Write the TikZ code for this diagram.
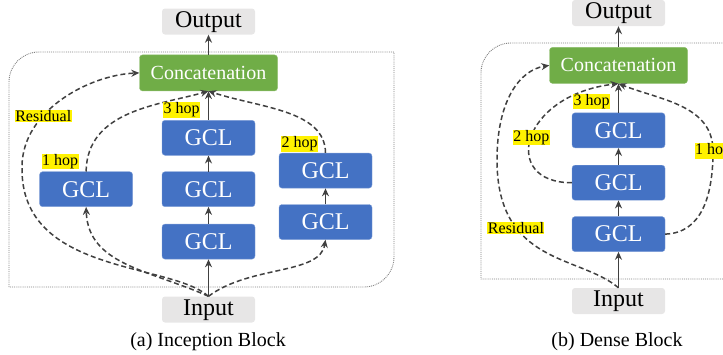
\documentclass[tikz,border=0pt]{standalone}
\usepackage{fontspec}
\setmainfont{Liberation Serif}
\usepackage{xcolor}
\usepackage{tikz}
\usetikzlibrary{arrows.meta, positioning, calc}

\definecolor{gclblue}{HTML}{4472C4}
\definecolor{concatgreen}{HTML}{70AD47}
\definecolor{iogray}{HTML}{E7E6E6}
\definecolor{linegray}{HTML}{404040}

\begin{document}
\begin{tikzpicture}[
            x=1pt, y=-1pt,
            >={Stealth[length=8pt, width=7pt]},
            gcl/.style={rectangle, draw=gclblue!70!white, fill=gclblue, rounded corners=3pt, text=white, minimum width=93pt, minimum height=35pt, font=\fontsize{24}{28}\selectfont},
            concat/.style={rectangle, draw=concatgreen!80!white, fill=concatgreen, rounded corners=3pt, text=white, minimum width=138pt, minimum height=36pt, font=\fontsize{20}{24}\selectfont},
            io/.style={rectangle, fill=iogray, rounded corners=3pt, inner sep=0pt, text height=16pt, text depth=5pt, minimum width=93pt, minimum height=26pt, font=\fontsize{24}{28}\selectfont},
            hop/.style={fill=yellow, inner sep=0.5pt, font=\fontsize{16}{18}\selectfont},
            flow/.style={->, draw=linegray, line width=1.5pt},
            skip/.style={flow, dash pattern=on 5pt off 3pt},
            frame/.style={draw=gray, densely dotted, line width=0.9pt},
            caption/.style={font=\fontsize{20}{24}\selectfont}
        ]
        \useasboundingbox (0,0) rectangle (723,354);

        % Inception block
        \draw[frame] (9,287) -- (9,82) .. controls (9,65.4) and (22.4,52) .. (39,52) -- (394,52) -- (394,257) .. controls (394,273.6) and (380.6,287) .. (364,287) -- cycle;

        \node[io] (inc_in) at (208.5,309.5) {Input};
        \node[gcl, above=37pt of inc_in] (inc_gcl3a) {GCL};
        \node[gcl, above=17pt of inc_gcl3a] (inc_gcl3b) {GCL};
        \node[gcl, above=16pt of inc_gcl3b] (inc_gcl3c) {GCL};
        \node[concat, above=29pt of inc_gcl3c] (inc_concat) {Concatenation};
        \node[io, above=20pt of inc_concat] (inc_out) {Output};
        \node[gcl, left=29pt of inc_gcl3b] (inc_gcl1) {GCL};
        \node[gcl] (inc_gcl2a) at (325.5,222) {GCL};
        \node[gcl, above=16pt of inc_gcl2a] (inc_gcl2b) {GCL};

        \draw[flow] (inc_in) -- (inc_gcl3a);
        \draw[flow] (inc_gcl3a) -- (inc_gcl3b);
        \draw[flow] (inc_gcl3b) -- (inc_gcl3c);
        \draw[flow] (inc_gcl3c) -- (inc_concat);
        \draw[flow] (inc_concat) -- (inc_out);
        \draw[flow] (inc_gcl2a) -- (inc_gcl2b);

        % Inception skips
        \draw[skip] (inc_in.north) .. controls (170,262) and (20,275) .. (22,167) .. controls (22,110) and (90,75) .. (inc_concat.west) node[hop, pos=0.35] (inc_res) {Residual};
        \draw[skip] (inc_in.north) .. controls (150,270) and (88,265) .. (inc_gcl1.south);
        \draw[skip] (inc_in.north) .. controls (250,265) and (320,275) .. (inc_gcl2a.south);
        \draw[skip] (inc_gcl1.north) .. controls (87,110) and (160,105) .. (inc_concat.south);
        \draw[skip] (inc_gcl2b.north) .. controls (325,110) and (260,108) .. (inc_concat.south);

        \node[hop, anchor=south west] (inc_hop1) at ([xshift=2pt, yshift=2pt]inc_gcl1.north west) {1 hop};
        \node[hop, anchor=south west] (inc_hop2) at ([xshift=2pt, yshift=1pt]inc_gcl2b.north west) {2 hop};
        \node[hop, anchor=south west] (inc_hop3) at ([xshift=1pt, yshift=2pt]inc_gcl3c.north west) {3 hop};

        \node[caption] (inc_caption) at (208,342) {(a) Inception Block};

        % Dense block
        \draw[frame] (723,279) -- (481,279) -- (481,73) .. controls (481,56.4) and (494.4,43) .. (511,43) -- (753,43) -- (753,249) .. controls (753,265.6) and (739.6,279) .. (723,279);

        \node[io] (dense_in) at (618.5,301) {Input};
        \node[gcl, above=36pt of dense_in] (dense_gcl1) {GCL};
        \node[gcl, above=16pt of dense_gcl1] (dense_gcl2) {GCL};
        \node[gcl, above=17pt of dense_gcl2] (dense_gcl3) {GCL};
        \node[concat, above=29pt of dense_gcl3] (dense_concat) {Concatenation};
        \node[io, above=21pt of dense_concat] (dense_out) {Output};

        \draw[flow] (dense_in) -- (dense_gcl1);
        \draw[flow] (dense_gcl1) -- (dense_gcl2);
        \draw[flow] (dense_gcl2) -- (dense_gcl3);
        \draw[flow] (dense_gcl3) -- (dense_concat);
        \draw[flow] (dense_concat) -- (dense_out);

        % Dense skips
        \draw[skip] (dense_in.north) .. controls (580,255) and (497,265) .. (497,160) node[hop, pos=0.7] (dense_res) {Residual} .. controls (497,100) and (520,70) .. (dense_concat.west);
        \draw[skip] (dense_gcl2.west) .. controls (500,183) and (520,95) .. (dense_concat.south) node[hop, pos=0.5] (dense_hop2) {2 hop};
        \draw[skip] (dense_gcl1.east) .. controls (702,233) and (713,195) .. (713,151) node[hop, pos=1] (dense_hop1) {1 hop} .. controls (713,105) and (660,100) .. (dense_concat.south);

        \node[hop, anchor=south west] (dense_hop3) at ([xshift=1pt, yshift=3pt]dense_gcl3.north west) {3 hop};

        \node[caption] (dense_caption) at (617,342) {(b) Dense Block};

    \end{tikzpicture}
\end{document}
